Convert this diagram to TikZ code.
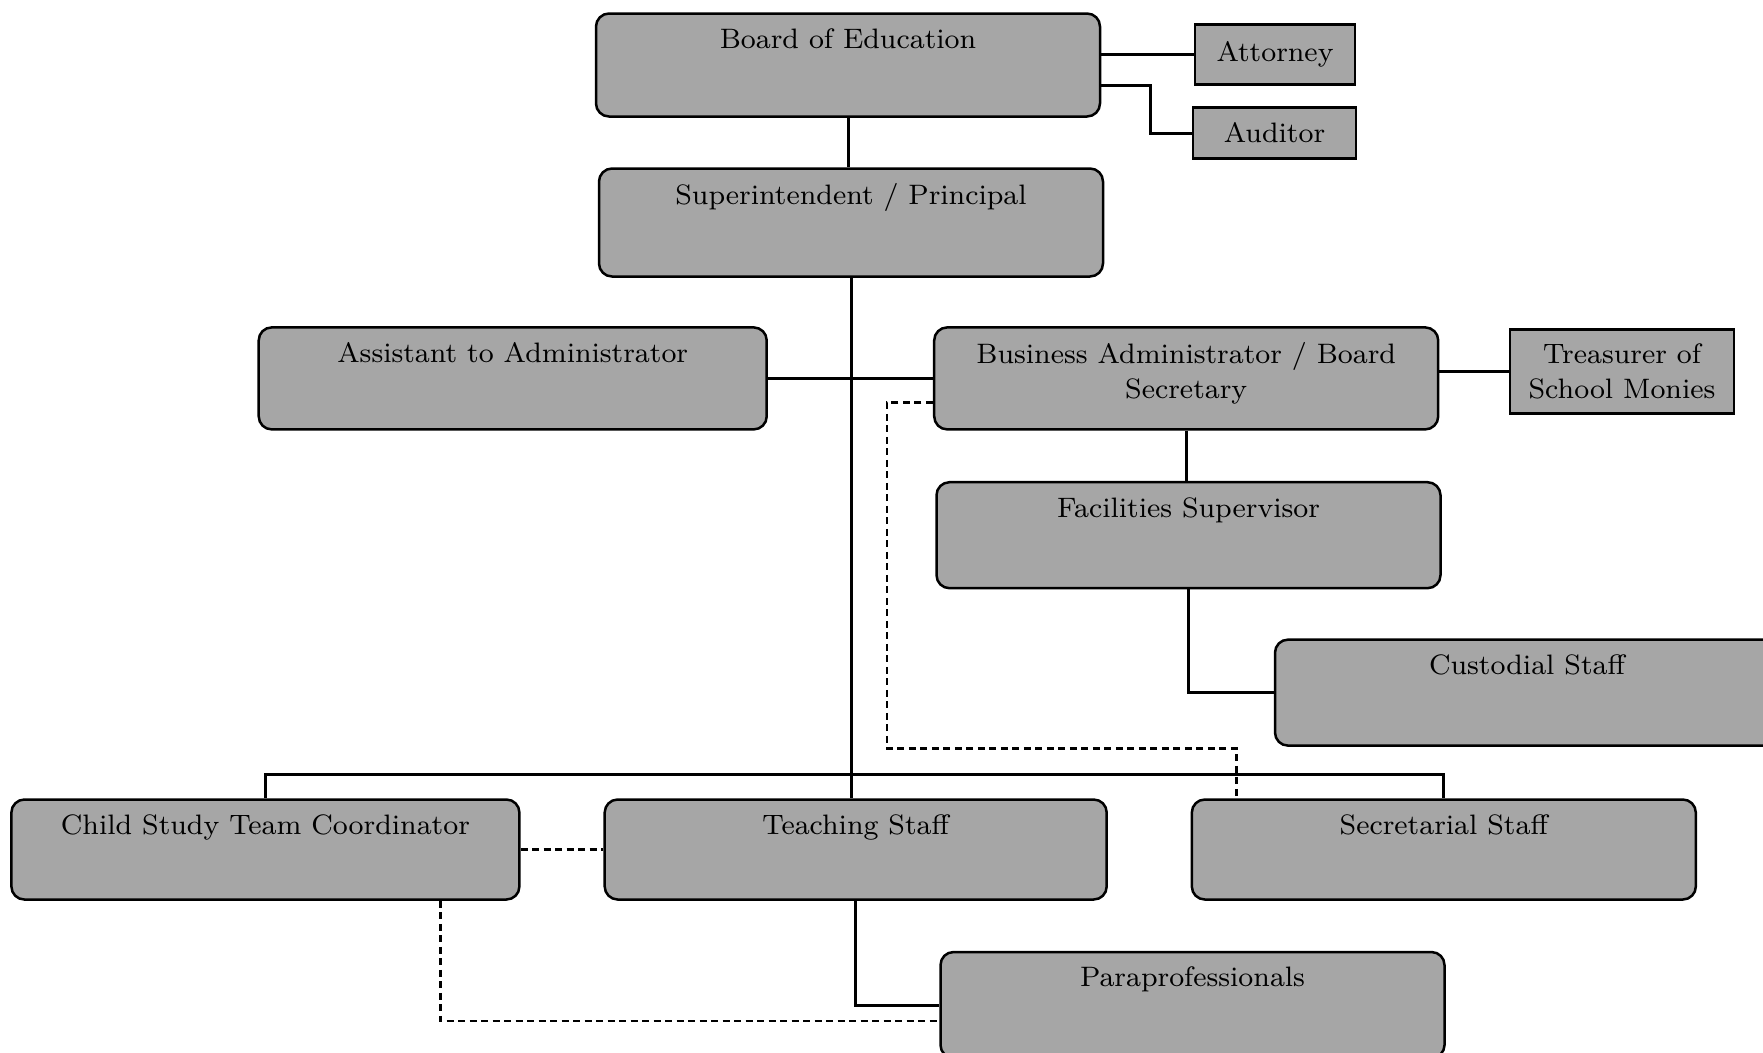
\documentclass[tikz,border=0pt]{standalone}
\usepackage{tikz}

\begin{document}
\begin{tikzpicture}[x=0.1mm, y=-0.1mm,
		office/.style={draw, rounded corners=1.3mm, fill=black!35, line width=0.25mm, minimum width=50.4mm, minimum height=10.3mm},
		advisor/.style={draw, fill=black!35, line width=0.25mm, align=center, font=\fontsize{8}{10}\selectfont},
		toptext/.style={anchor=north, yshift=-0.4mm, align=center, font=\fontsize{8}{10}\selectfont},
		link/.style={line width=0.3mm},
		dashlink/.style={line width=0.25mm, dash pattern=on 0.7mm off 0.45mm}]
				\path[use as bounding box, clip] (0,0) rectangle (1763,1052);
				
				\path (848, 65) node[office, label={[toptext]north:Board of Education}] (boe){}
				(1275, 54.5) node[advisor, minimum width=16mm, minimum height=6mm] (atty){Attorney}
				(1274.5, 133) node[advisor, minimum width=16.3mm, minimum height=5.1mm] (aud){Auditor}
				(851, 222.5) node[office, minimum height=10.8mm, label={[toptext]north:Superintendent / Principal}] (supt){}
				(512.7, 378.4) node[office, minimum width=50.8mm, minimum height=10.2mm, label={[toptext]north:Assistant to Administrator}] (asst){}
				(1186.2, 378.4) node[office, minimum height=10.2mm, label={[toptext]north:{Business Administrator / Board\\Secretary}}] (busadm){}
				(1622, 371.6) node[advisor, minimum width=22.4mm, minimum height=8.4mm] (treas){Treasurer of\\School Monies}
				(1188.5, 535.2) node[office, minimum height=10.6mm, label={[toptext]north:Facilities Supervisor}] (facil){}
				(1527, 692.6) node[office, minimum height=10.6mm, label={[toptext]north:Custodial Staff}] (cust){}
				(265.4, 849.5) node[office, minimum width=50.8mm, minimum height=10mm, label={[toptext]north:Child Study Team Coordinator}] (cst){}
				(855.7, 849.5) node[office, minimum width=50.2mm, minimum height=10mm, label={[toptext]north:Teaching Staff}] (teach){}
				(1443.8, 849.5) node[office, minimum height=10mm, label={[toptext]north:Secretarial Staff}] (secr){}
				(1192.5, 1005) node[office, minimum height=10.6mm, label={[toptext]north:Paraprofessionals}] (para){};
				
				\coordinate (busline) at (0, 774.7);
				\coordinate (secdash) at ([xshift=4.6mm]secr.north west);
				
				\draw[link] (boe.east |- atty.west) -- (atty.west)
				([yshift=-2mm]boe.east) -- ++(4.9mm,0) |- (aud.west)
				(boe.south) -- (boe.south |- supt.north)
				(supt.south) -- (supt.south |- teach.north)
				(asst.east) -- (busadm.west)
				(busadm.east |- treas.west) -- (treas.west)
				(busadm.south) -- (busadm.south |- facil.north)
				(facil.south) |- (cust.west)
				(cst.north) -- (cst.north |- busline) -| (secr.north)
				(teach.south) |- (para.west);
				
				\draw[dashlink] ([yshift=-2.4mm]busadm.west) -- ++(-4.6mm,0) -- ++(0,-34.6mm) -| (secdash)
				(cst.east) -- (teach.west)
				([xshift=17.5mm]cst.south) |- ([yshift=-1.6mm]para.west);
			\end{tikzpicture}
\end{document}
